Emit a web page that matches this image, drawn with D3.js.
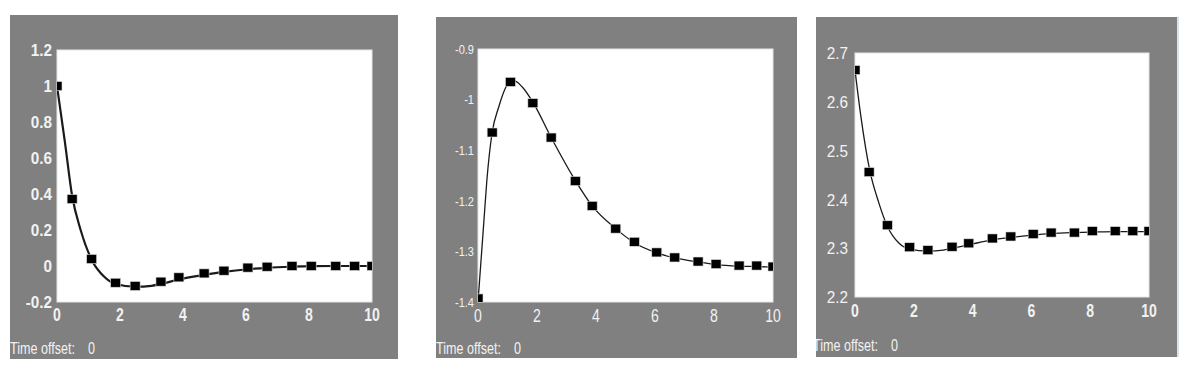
<!DOCTYPE html>
<html>
<meta charset="utf-8">
<head>
<script src="https://d3js.org/d3.v7.min.js"></script>
<style>
  body { margin: 0; background: #fff; }
  svg { display: block; }
</style>
</head>
<body>
<div id="chart"></div>
<script>
// sample times (same for all three panels)
var times = [0, 0.48, 1.1, 1.86, 2.48, 3.3, 3.87, 4.67, 5.3, 6.06, 6.67, 7.46, 8.07, 8.85, 9.45, 10];

// measured points
var values1 = [1.0, 0.372, 0.039, -0.093, -0.111, -0.087, -0.063, -0.041, -0.026, -0.009, -0.004, 0, 0, 0, 0, 0];
var values2 = [-1.393, -1.065, -0.965, -1.007, -1.075, -1.161, -1.21, -1.255, -1.281, -1.302, -1.312, -1.32, -1.325, -1.328, -1.328, -1.33];
var values3 = [2.665, 2.456, 2.347, 2.302, 2.296, 2.303, 2.31, 2.32, 2.324, 2.329, 2.332, 2.332, 2.335, 2.335, 2.335, 2.335];

// fitted curves
var fitTimes1 = [0, 0.25, 0.48, 0.75, 1.1, 1.5, 1.86, 2.48, 3.0, 3.3, 3.87, 4.67, 5.3, 6.06, 6.67, 7.46, 8.07, 8.85, 9.45, 10];
var fitValues1 = [1.0, 0.69, 0.39, 0.2, 0.035, -0.06, -0.1, -0.115, -0.11, -0.1, -0.075, -0.05, -0.033, -0.018, -0.01, -0.004, -0.001, 0, 0, 0];
var fitTimes2 = [0, 0.1, 0.2, 0.3, 0.48, 0.7, 1.0, 1.2, 1.5, 1.86, 2.48, 3.3, 3.87, 4.67, 5.3, 6.06, 6.67, 7.46, 8.07, 8.85, 9.45, 10];
var fitValues2 = [-1.4, -1.32, -1.24, -1.16, -1.065, -1.015, -0.97, -0.962, -0.975, -1.005, -1.075, -1.16, -1.21, -1.255, -1.283, -1.303, -1.313, -1.321, -1.326, -1.329, -1.33, -1.331];
var fitTimes3 = [0, 0.2, 0.5, 0.8, 1.1, 1.5, 1.86, 2.48, 3.0, 3.3, 3.87, 4.67, 5.3, 6.06, 6.67, 7.46, 8.07, 8.85, 9.45, 10];
var fitValues3 = [2.665, 2.57, 2.46, 2.395, 2.345, 2.31, 2.298, 2.294, 2.296, 2.3, 2.307, 2.317, 2.322, 2.327, 2.33, 2.332, 2.333, 2.334, 2.334, 2.334];

// ticks
var xTicks = [0, 2, 4, 6, 8, 10];
var yTicks1 = ["-0.2", "0", "0.2", "0.4", "0.6", "0.8", "1", "1.2"];
var yTicks2 = ["-1.4", "-1.3", "-1.2", "-1.1", "-1", "-0.9"];
var yTicks3 = ["2.2", "2.3", "2.4", "2.5", "2.6", "2.7"];

var width = 1189, height = 374;

var svg = d3.select("#chart").append("svg")
    .attr("width", width)
    .attr("height", height);

// panel boxes (gray frame + white plot area) and text styles
var panels = [
  { frame: [10, 15, 398, 359], plot: [57, 50, 372, 302], yDomain: [-0.2, 1.2], yTicks: yTicks1,
    vals: values1, fitT: fitTimes1, fitV: fitValues1, lineW: 2.2,
    yFont: 17, yWeight: "bold", yScale: 0.9, yRight: 52,
    xFont: 19, xWeight: "bold", xDy: 12, timeX: 10, timeY: 354 },
  { frame: [436, 17, 797, 358], plot: [478, 49, 773, 302], yDomain: [-1.4, -0.9], yTicks: yTicks2,
    vals: values2, fitT: fitTimes2, fitV: fitValues2, lineW: 1.3,
    yFont: 13.5, yWeight: "normal", yScale: 0.82, yRight: 474,
    xFont: 19, xWeight: "normal", xDy: 13, timeX: 436, timeY: 354 },
  { frame: [816, 17, 1177, 357], plot: [855, 53, 1149, 297], yDomain: [2.2, 2.7], yTicks: yTicks3,
    vals: values3, fitT: fitTimes3, fitV: fitValues3, lineW: 1.3,
    yFont: 17, yWeight: "normal", yScale: 0.9, yRight: 848,
    xFont: 19, xWeight: "bold", xDy: 13.5, timeX: 813, timeY: 351 }
];

var font = "'Liberation Sans', Arial, sans-serif";
var narrowX = 0.74;   // horizontal squeeze to mimic the condensed face
var labelColor = "#f2f2f2";

panels.forEach(function(p, i) {
  var g = svg.append("g");

  g.append("clipPath").attr("id", "frameclip" + i)
    .append("rect")
    .attr("x", p.frame[0]).attr("y", p.frame[1])
    .attr("width", p.frame[2] - p.frame[0]).attr("height", p.frame[3] - p.frame[1]);

  g.append("clipPath").attr("id", "plotclip" + i)
    .append("rect")
    .attr("x", p.plot[0]).attr("y", p.plot[1])
    .attr("width", p.plot[2] - p.plot[0]).attr("height", p.plot[3] - p.plot[1]);

  g.append("rect")
    .attr("x", p.frame[0]).attr("y", p.frame[1])
    .attr("width", p.frame[2] - p.frame[0]).attr("height", p.frame[3] - p.frame[1])
    .attr("fill", "#808080");

  g.append("rect")
    .attr("x", p.plot[0]).attr("y", p.plot[1])
    .attr("width", p.plot[2] - p.plot[0]).attr("height", p.plot[3] - p.plot[1])
    .attr("fill", "#fff")
    .attr("stroke", "#e6e6e6")
    .attr("stroke-width", 1);

  var x = d3.scaleLinear().domain([0, 10]).range([p.plot[0], p.plot[2]]);
  var y = d3.scaleLinear().domain(p.yDomain).range([p.plot[3], p.plot[1]]);

  // y tick labels
  g.append("g").selectAll("text")
    .data(p.yTicks)
    .enter().append("text")
    .attr("transform", function(d) {
      return "translate(" + p.yRight + "," + y(+d) + ") scale(" + p.yScale + ",1)";
    })
    .attr("dy", "0.36em")
    .attr("text-anchor", "end")
    .attr("fill", labelColor)
    .style("font-family", font)
    .style("font-size", p.yFont + "px")
    .style("font-weight", p.yWeight)
    .text(function(d) { return d; });

  // x tick labels
  g.append("g").selectAll("text")
    .data(xTicks)
    .enter().append("text")
    .attr("transform", function(d) {
      return "translate(" + x(d) + "," + (p.plot[3] + p.xDy) + ") scale(" + narrowX + ",1)";
    })
    .attr("dy", "0.36em")
    .attr("text-anchor", "middle")
    .attr("fill", labelColor)
    .style("font-family", font)
    .style("font-size", p.xFont + "px")
    .style("font-weight", p.xWeight)
    .text(function(d) { return d; });

  // time offset label
  var tg = g.append("g").attr("clip-path", "url(#frameclip" + i + ")");
  var t = tg.append("text")
    .attr("transform", "translate(" + p.timeX + "," + p.timeY + ") scale(" + narrowX + ",1)")
    .attr("fill", labelColor)
    .style("font-family", font)
    .style("font-size", "17px");
  t.append("tspan").attr("x", 0).text("Time offset:");
  t.append("tspan").attr("x", 78 / narrowX).text("0");

  var inner = g.append("g").attr("clip-path", "url(#plotclip" + i + ")");

  // fitted curve
  var fit = p.fitT.map(function(tv, k) { return [tv, p.fitV[k]]; });
  var line = d3.line()
    .x(function(d) { return x(d[0]); })
    .y(function(d) { return y(d[1]); })
    .curve(d3.curveMonotoneX);

  inner.append("path")
    .datum(fit)
    .attr("d", line)
    .attr("fill", "none")
    .attr("stroke", "#1a1a1a")
    .attr("stroke-width", p.lineW);

  // data markers
  var pts = times.map(function(tv, k) { return [tv, p.vals[k]]; });
  inner.selectAll("rect.marker")
    .data(pts)
    .enter().append("rect")
    .attr("class", "marker")
    .attr("x", function(d) { return x(d[0]) - 5; })
    .attr("y", function(d) { return y(d[1]) - 4.5; })
    .attr("width", 10)
    .attr("height", 9)
    .attr("fill", "#000")
    .attr("stroke", "#ddd")
    .attr("stroke-width", 0.6);
});

// thin blue edge at the right of the last panel
svg.append("line")
  .attr("x1", 1178).attr("x2", 1178)
  .attr("y1", 17).attr("y2", 357)
  .attr("stroke", "#b4c8dc")
  .attr("stroke-width", 1);
</script>
</body>
</html>
